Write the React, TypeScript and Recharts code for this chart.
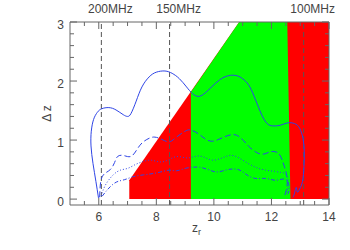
import React from 'react';
import { ComposedChart, Area, Line, XAxis, YAxis, ReferenceLine } from 'recharts';

// ---- data ----
const X_TICKS = [5.5, 6, 6.5, 7, 7.5, 8, 8.5, 9, 9.5, 10, 10.5, 11, 11.5, 12, 12.5, 13, 13.5, 14];
const X_LABELS = [6, 8, 10, 12, 14];
const Y_TICKS = [0, 0.2, 0.4, 0.6, 0.8, 1, 1.2, 1.4, 1.6, 1.8, 2, 2.2, 2.4, 2.6, 2.8, 3];
const Y_LABELS = [0, 1, 2, 3];

const FREQ_LINES = [
  { z: 6.09, label: '200MHz' },
  { z: 8.46, label: '150MHz' },
  { z: 13.12, label: '100MHz' },
];

// fill regions (boundary polylines, filled down to Δz = 0)
const redX = [7.06, 10.88, 14];
const redY = [0.32, 3.0, 3.0];
const greenX = [9.2, 10.88, 12.55, 12.66];
const greenY = [1.81, 3.0, 3.0, 0];

// contours
const solidX = [5.99, 5.9, 5.8, 5.73, 5.74, 5.82, 5.95, 6.1, 6.35, 6.6, 6.85, 7.0, 7.12, 7.3, 7.5, 7.75, 8.0, 8.3, 8.55, 8.8, 9.05, 9.25, 9.45, 9.65, 9.9, 10.2, 10.5, 10.8, 11.05, 11.25, 11.45, 11.65, 11.85, 12.05, 12.3, 12.55, 12.8, 12.98, 13.1, 13.14, 13.13, 13.08, 12.98, 12.9, 12.86, 12.8, 12.75];
const solidY = [0.02, 0.3, 0.6, 0.9, 1.15, 1.35, 1.47, 1.53, 1.55, 1.51, 1.43, 1.4, 1.45, 1.66, 1.9, 2.07, 2.15, 2.17, 2.13, 2.04, 1.9, 1.79, 1.74, 1.78, 1.89, 2.02, 2.09, 2.09, 2.02, 1.9, 1.68, 1.44, 1.28, 1.24, 1.25, 1.29, 1.28, 1.2, 1.02, 0.8, 0.55, 0.3, 0.17, 0.12, 0.2, 0.1, 0.03];

const dashedX = [6.03, 6.07, 6.2, 6.4, 6.55, 6.65, 6.85, 7.1, 7.3, 7.5, 7.75, 7.95, 8.2, 8.45, 8.7, 9.0, 9.2, 9.45, 9.7, 9.95, 10.25, 10.6, 10.9, 11.2, 11.45, 11.7, 11.95, 12.15, 12.3, 12.45, 12.55, 12.5, 12.45];
const dashedY = [0.03, 0.3, 0.43, 0.5, 0.62, 0.72, 0.74, 0.72, 0.82, 0.95, 1.03, 1.05, 1.01, 0.97, 1.05, 1.15, 1.17, 1.11, 1.02, 0.98, 1.03, 1.09, 1.05, 0.9, 0.8, 0.76, 0.8, 0.8, 0.74, 0.55, 0.32, 0.12, 0.06];

const dottedX = [6.08, 6.15, 6.27, 6.5, 6.75, 7.0, 7.25, 7.5, 7.8, 8.1, 8.4, 8.7, 9.0, 9.25, 9.5, 9.75, 10.0, 10.3, 10.6, 10.9, 11.2, 11.5, 11.8, 12.1, 12.35, 12.5, 12.58, 12.55, 12.48];
const dottedY = [0.05, 0.15, 0.27, 0.41, 0.49, 0.52, 0.58, 0.63, 0.66, 0.63, 0.66, 0.72, 0.7, 0.71, 0.73, 0.69, 0.66, 0.7, 0.74, 0.69, 0.6, 0.53, 0.49, 0.47, 0.45, 0.42, 0.3, 0.15, 0.08];

const dashDotX = [6.12, 6.25, 6.4, 6.62, 6.9, 7.2, 7.55, 7.85, 8.15, 8.45, 8.7, 9.0, 9.25, 9.5, 9.8, 10.1, 10.4, 10.65, 10.9, 11.15, 11.45, 11.8, 12.15, 12.45, 12.6, 12.6, 12.5];
const dashDotY = [0.05, 0.13, 0.21, 0.29, 0.33, 0.38, 0.41, 0.43, 0.46, 0.49, 0.48, 0.52, 0.54, 0.54, 0.5, 0.46, 0.49, 0.51, 0.49, 0.41, 0.35, 0.35, 0.32, 0.34, 0.25, 0.12, 0.06];

const toPts = (xs: number[], ys: number[]) => xs.map((x, i) => ({ x, y: ys[i] }));

// ---- style ----
const W = 350;
const H = 250;
const PLOT_TOP = 22;
const PLOT_LEFT = 70;
const PLOT_RIGHT = 329;
const AXIS = '#666';
const TEXT = '#444';
const FONT = 'Liberation Sans, Arial, sans-serif';
const BLUE = '#2f45e6';

const XTick = (props: any) => {
  const { x, y, payload } = props;
  const v = payload.value;
  const major = X_LABELS.includes(v);
  const len = major ? 7 : 4;
  return (
    <g>
      <line x1={x} y1={y} x2={x} y2={y - len} stroke={AXIS} strokeWidth={1} />
      <line x1={x} y1={PLOT_TOP} x2={x} y2={PLOT_TOP + len} stroke={AXIS} strokeWidth={1} />
      {major && (
        <text x={x} y={y + 16} textAnchor="middle" fontFamily={FONT} fontSize={12} fill={TEXT}>
          {v}
        </text>
      )}
    </g>
  );
};

const YTick = (props: any) => {
  const { y, payload } = props;
  const v = payload.value;
  const major = Y_LABELS.includes(v);
  const len = major ? 7 : 4;
  return (
    <g>
      <line x1={PLOT_LEFT} y1={y} x2={PLOT_LEFT + len} y2={y} stroke={AXIS} strokeWidth={1} />
      <line x1={PLOT_RIGHT} y1={y} x2={PLOT_RIGHT - len} y2={y} stroke={AXIS} strokeWidth={1} />
      {major && (
        <text x={PLOT_LEFT - 6} y={y + 7} textAnchor="end" fontFamily={FONT} fontSize={12} fill={TEXT}>
          {v}
        </text>
      )}
    </g>
  );
};

const XLabel = (props: any) => {
  const vb = props.viewBox || {};
  const cx = vb.x + vb.width / 2 - 3;
  return (
    <text x={cx} y={232} textAnchor="middle" fontFamily={FONT} fontSize={12} fill={TEXT}>
      z
      <tspan fontSize={9} dy={3}>r</tspan>
    </text>
  );
};

const YLabel = (props: any) => {
  const vb = props.viewBox || {};
  const cy = vb.y + vb.height / 2;
  const cx = 47;
  return (
    <text
      x={cx}
      y={cy}
      transform={`rotate(-90 ${cx} ${cy})`}
      textAnchor="middle"
      dominantBaseline="central"
      fontFamily={FONT}
      fontSize={12}
      fill={TEXT}
    >
      Δ z
    </text>
  );
};

const FreqLabel = (props: any) => {
  const vb = props.viewBox || {};
  return (
    <text x={vb.x + 9} y={13} textAnchor="middle" fontFamily={FONT} fontSize={12} fill={TEXT}>
      {props.text}
    </text>
  );
};

export default function App() {
  return (
    <div style={{ position: 'absolute', left: 0, top: 0, width: W, height: H, background: '#fff' }}>
      <ComposedChart width={W} height={H} margin={{ top: PLOT_TOP, right: W - PLOT_RIGHT, bottom: 0, left: 0 }}>
        <XAxis
          type="number"
          dataKey="x"
          domain={[5, 14]}
          ticks={X_TICKS}
          interval={0}
          allowDataOverflow
          height={45}
          tickSize={0}
          tickMargin={0}
          tickLine={false}
          axisLine={{ stroke: AXIS }}
          tick={<XTick />}
          label={<XLabel />}
        />
        <YAxis
          type="number"
          domain={[-0.1, 3]}
          ticks={Y_TICKS}
          interval={0}
          allowDataOverflow
          width={PLOT_LEFT}
          tickSize={0}
          tickMargin={0}
          tickLine={false}
          axisLine={{ stroke: AXIS }}
          tick={<YTick />}
          label={<YLabel />}
        />
        <Area
          data={toPts(redX, redY)}
          dataKey="y"
          type="linear"
          baseValue={0}
          stroke="none"
          fill="#ff0000"
          fillOpacity={1}
          isAnimationActive={false}
          dot={false}
          activeDot={false}
        />
        <Area
          data={toPts(greenX, greenY)}
          dataKey="y"
          type="linear"
          baseValue={0}
          stroke="none"
          fill="#00ff00"
          fillOpacity={1}
          isAnimationActive={false}
          dot={false}
          activeDot={false}
        />
        {FREQ_LINES.map((f) => (
          <ReferenceLine
            key={f.label}
            x={f.z}
            stroke="#555"
            strokeDasharray="5 3"
            label={<FreqLabel text={f.label} />}
          />
        ))}
        <ReferenceLine y={3} stroke={AXIS} />
        <ReferenceLine x={14} stroke={AXIS} />
        <Line data={toPts(solidX, solidY)} dataKey="y" type="natural" stroke={BLUE} strokeWidth={1} dot={false} activeDot={false} isAnimationActive={false} />
        <Line data={toPts(dashedX, dashedY)} dataKey="y" type="natural" stroke={BLUE} strokeWidth={1} strokeDasharray="6 3" dot={false} activeDot={false} isAnimationActive={false} />
        <Line data={toPts(dottedX, dottedY)} dataKey="y" type="natural" stroke={BLUE} strokeWidth={1} strokeDasharray="1 2" dot={false} activeDot={false} isAnimationActive={false} />
        <Line data={toPts(dashDotX, dashDotY)} dataKey="y" type="natural" stroke={BLUE} strokeWidth={1} strokeDasharray="4 2 1 2" dot={false} activeDot={false} isAnimationActive={false} />
      </ComposedChart>
    </div>
  );
}
